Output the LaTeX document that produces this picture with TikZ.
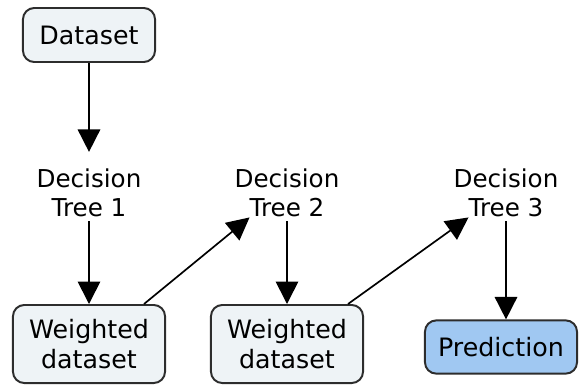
\documentclass[tikz,border=0pt]{standalone}
\usepackage{fontspec}
\setmainfont{DejaVu Sans}
\usetikzlibrary{arrows.meta}
\definecolor{boxfill}{RGB}{238,243,246}
\definecolor{predfill}{RGB}{160,200,242}
\definecolor{boxline}{RGB}{45,45,45}
\tikzset{
  databox/.style={draw=boxline, line width=1.4pt, rounded corners=8pt, fill=boxfill, align=center, font=\fontsize{18}{21}\selectfont, inner sep=0pt},
  treetext/.style={align=center, font=\fontsize{17.5}{20.5}\selectfont, inner xsep=0pt, inner ysep=3pt},
  flow/.style={-{Triangle[width=16pt,length=16pt]}, line width=1.2pt}
}
\begin{document}
\begin{tikzpicture}[x=0.025cm,y=-0.025cm]
\useasboundingbox (0,0) rectangle (580,389);

\node [databox, minimum width=3.3cm, minimum height=1.35cm] (data) at (89,35) {Dataset};
\node [treetext] (t1) at (89,193) {Decision\\Tree 1};
\node [treetext] (t2) at (287,193) {Decision\\Tree 2};
\node [treetext] (t3) at (506,193) {Decision\\Tree 3};
\node [databox, minimum width=3.8cm, minimum height=1.95cm] (w1) at (89,344) {Weighted\\dataset};
\node [databox, minimum width=3.8cm, minimum height=1.95cm] (w2) at (287,344) {Weighted\\dataset};
\node [databox, fill=predfill, minimum width=3.8cm, minimum height=1.33cm] (pred) at (501,347) {Prediction};

\draw [flow, shorten >=9pt] (data) -- (t1);
\draw [flow] (t1) -- (w1);
\draw [flow] ([xshift=-0.55cm]w1.north east) -- ([xshift=0.38cm,yshift=0.1cm]t2.south west);
\draw [flow] (t2) -- (w2);
\draw [flow] ([xshift=-0.4cm]w2.north east) -- ([xshift=0.38cm,yshift=0.1cm]t3.south west);
\draw [flow] (t3.south) -- (pred.north -| t3.south);

\end{tikzpicture}
\end{document}
